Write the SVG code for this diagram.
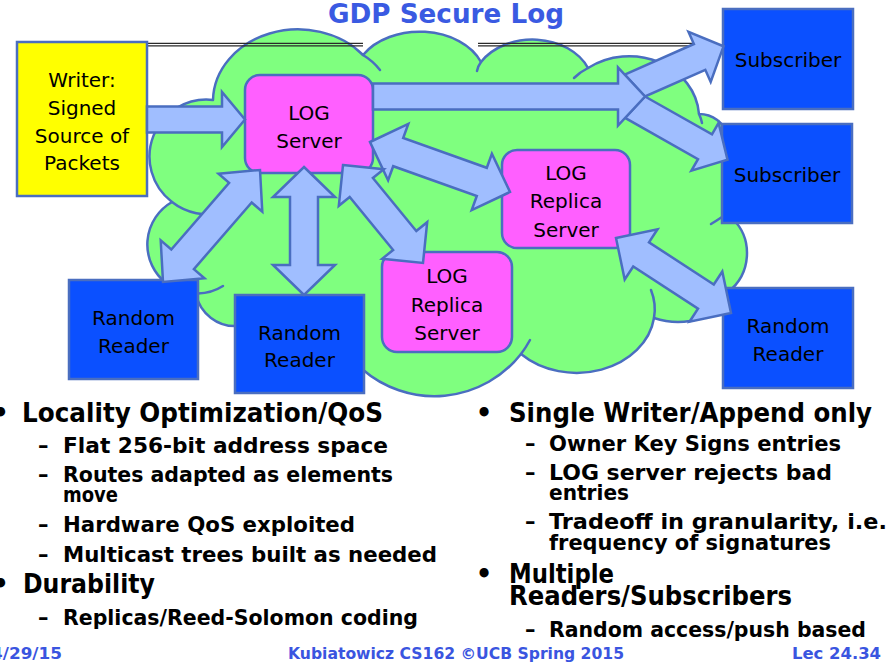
<svg xmlns="http://www.w3.org/2000/svg" width="888" height="665" viewBox="0 0 888 665">
  <style>
    .cloud { fill:#7FFF7F; stroke:#4A6EC0; stroke-width:2.5; stroke-linejoin:round; }
    .frag { fill:none; stroke:#4A6EC0; stroke-width:2.5; stroke-linecap:round; }
    .rule { stroke:#2A2A2A; stroke-width:1.2; fill:none; }
    .arrow { fill:#A0BEFF; stroke:#4A6EC0; stroke-width:2.5; stroke-linejoin:miter; }
    .writer { fill:#FFFF00; stroke:#4A6EC0; stroke-width:2.5; }
    .log { fill:#FF5FFF; stroke:#4A6EC0; stroke-width:2.5; }
    .node { fill:#0B50FF; stroke:#4A6EC0; stroke-width:2.5; }
    .lbl { font-family:"DejaVu Sans", "Liberation Sans", sans-serif; font-size:20px; fill:#000; text-anchor:middle; }
    .ttl { font-family:"DejaVu Sans", sans-serif; font-weight:bold; font-size:27px; fill:#3A5AE2; }
    .b1 { font-family:"DejaVu Sans", sans-serif; font-weight:bold; font-size:26px; fill:#000; }
    .b2 { font-family:"DejaVu Sans", sans-serif; font-weight:bold; font-size:21px; fill:#000; }
    .dot { font-family:"DejaVu Sans", sans-serif; font-weight:bold; font-size:26px; fill:#000; text-anchor:middle; }
    .ftr { font-family:"DejaVu Sans", sans-serif; font-weight:bold; font-size:16px; fill:#3A55E0; }
  </style>

  <!-- title -->
  <text class="ttl" x="328" y="23" textLength="236" lengthAdjust="spacingAndGlyphs">GDP Secure Log</text>

  <!-- network cloud -->
  <g id="cloud">
    <path class="cloud" d="M172,202 A57,57 0 0 1 213,100 A85,72 0 0 1 363,55 A66,48 0 0 1 481,62 A60,46 0 0 1 588,68 A70,62 0 0 1 699,114 A30,30 0 0 1 728,136 L760,180 L733,219 A49,49 0 0 1 728,292 L712,305 L690,321 Q672,324 654,318 A78,63 0 0 1 521,354 A110,110 0 0 1 362,369 L300,385 L238,326 A40,40 0 0 1 196,294 L185,300 L166,283 A49,49 0 0 1 172,202 Z"/>
    <!-- inner lobe arcs -->
    <path class="frag" d="M363,55 Q373,61 380,70"/>
    <path class="frag" d="M481,62 Q478,66 477,71"/>
    <path class="frag" d="M588,68 Q580,72 574,78"/>
    <path class="frag" d="M699,114 Q701,118 702,123"/>
    <path class="frag" d="M711,224 Q716,221 722,217"/>
    <path class="frag" d="M654,318 A78,63 0 0 0 651,290"/>
    <path class="frag" d="M521,354 A110,110 0 0 0 530,340"/>
    <path class="frag" d="M198,293.5 A49,49 0 0 0 223,286"/>
    <path class="frag" d="M172,202 A57,57 0 0 0 223,212"/>
  </g>

  <!-- double rule under the title -->
  <g id="rule">
    <path class="rule" d="M147,43.3 H363 M147,45.8 H363 M478,43.3 H700 M478,45.8 H700"/>
  </g>

  <g id="writer">
    <rect class="writer" x="17" y="42" width="130" height="154"/>
    <text class="lbl" x="82" y="87">Writer:</text>
    <text class="lbl" x="82" y="115">Signed</text>
    <text class="lbl" x="82" y="142.5">Source of</text>
    <text class="lbl" x="82" y="170">Packets</text>
  </g>

  <g id="log-server">
    <rect class="log" x="245" y="75" width="128" height="98" rx="15"/>
    <text class="lbl" x="309" y="120">LOG</text>
    <text class="lbl" x="309" y="148">Server</text>
  </g>

  <g id="replica-1">
    <rect class="log" x="502" y="150" width="128" height="98" rx="15"/>
    <text class="lbl" x="566" y="180">LOG</text>
    <text class="lbl" x="566" y="208">Replica</text>
    <text class="lbl" x="566" y="237">Server</text>
  </g>

  <g id="replica-2">
    <rect class="log" x="382" y="252" width="130" height="100" rx="15"/>
    <text class="lbl" x="447" y="283">LOG</text>
    <text class="lbl" x="447" y="312">Replica</text>
    <text class="lbl" x="447" y="340">Server</text>
  </g>

  <g id="subscriber-1">
    <rect class="node" x="723" y="9" width="130" height="100"/>
    <text class="lbl" x="788" y="67">Subscriber</text>
  </g>

  <g id="subscriber-2">
    <rect class="node" x="722" y="124" width="130" height="99"/>
    <text class="lbl" x="787" y="182">Subscriber</text>
  </g>

  <g id="reader-1">
    <rect class="node" x="69" y="280" width="129" height="99"/>
    <text class="lbl" x="133.5" y="325">Random</text>
    <text class="lbl" x="133.5" y="353">Reader</text>
  </g>

  <g id="reader-2">
    <rect class="node" x="235" y="295" width="129" height="98"/>
    <text class="lbl" x="299.5" y="340">Random</text>
    <text class="lbl" x="299.5" y="367">Reader</text>
  </g>

  <g id="reader-3">
    <rect class="node" x="723" y="288" width="130" height="100"/>
    <text class="lbl" x="788" y="333">Random</text>
    <text class="lbl" x="788" y="361">Reader</text>
  </g>

  <!-- block arrows -->
  <g id="connectors">
    <!-- writer to log server -->
    <path class="arrow" d="M147,106.5 H222 V92 L245,119.5 L222,147 V132.5 H147 Z"/>
    <!-- fan-out to subscribers -->
    <path class="arrow" d="M624.7,74.7 L693.9,44 L688.5,31.8 L723.5,46.3 L710.7,82 L705.3,69.8 L645,96.5 Z"/>
    <path class="arrow" d="M645,96.5 L712,134.4 L718.6,122.9 L727.5,159.6 L691.4,170.7 L698,159.2 L625.1,117.9 Z"/>
    <path class="arrow" d="M373,83.5 H618 V67.5 L645,96.5 L618,125.5 V109.5 H373 Z"/>
    <!-- log server to replica 1 -->
    <path class="arrow" d="M370,142 L408.3,123.9 L403.2,138 L486.8,167.8 L491.9,153.7 L510,192 L471.7,210.1 L476.8,196 L393.2,166.2 L388.1,180.3 Z"/>
    <!-- log server to replica 2 -->
    <path class="arrow" d="M343,165 L383.8,169.2 L372.9,178 L416.3,231 L427.2,222.2 L423,263 L382.2,258.8 L393.1,250 L349.7,197 L338.8,205.8 Z"/>
    <!-- log server to reader 1 -->
    <path class="arrow" d="M260,170 L262.3,211.7 L251.7,202.5 L193.9,269.1 L204.5,278.3 L163,282 L160.7,240.3 L171.3,249.5 L229.1,182.9 L218.5,173.7 Z"/>
    <!-- log server to reader 2 -->
    <path class="arrow" d="M304,167 L335,197 H318 V265 H335 L304,295 L273,265 H290 V197 H273 Z"/>
    <!-- replica 1 to reader 3 -->
    <path class="arrow" d="M616,238 L657.5,229.3 L649,242.3 L713.8,284.5 L722.3,271.5 L731,313 L689.5,321.7 L698,308.7 L633.2,266.5 L624.7,279.5 Z"/>
  </g>

  <!-- bullet text, left column -->
  <g id="notes-left">
    <text class="dot" x="0.5" y="422">•</text>
    <text class="b1" x="22" y="422" textLength="361" lengthAdjust="spacingAndGlyphs">Locality Optimization/QoS</text>
    <text class="b2" x="38" y="453">–</text>
    <text class="b2" x="63" y="453" textLength="325" lengthAdjust="spacingAndGlyphs">Flat 256-bit address space</text>
    <text class="b2" x="38" y="482">–</text>
    <text class="b2" x="63" y="482" textLength="330" lengthAdjust="spacingAndGlyphs">Routes adapted as elements</text>
    <text class="b2" x="63" y="502" textLength="55" lengthAdjust="spacingAndGlyphs">move</text>
    <text class="b2" x="38" y="532">–</text>
    <text class="b2" x="63" y="532" textLength="292" lengthAdjust="spacingAndGlyphs">Hardware QoS exploited</text>
    <text class="b2" x="38" y="562">–</text>
    <text class="b2" x="63" y="562" textLength="374" lengthAdjust="spacingAndGlyphs">Multicast trees built as needed</text>
    <text class="dot" x="0.5" y="593">•</text>
    <text class="b1" x="23" y="593" textLength="132" lengthAdjust="spacingAndGlyphs">Durability</text>
    <text class="b2" x="38" y="625">–</text>
    <text class="b2" x="63" y="625" textLength="355" lengthAdjust="spacingAndGlyphs">Replicas/Reed-Solomon coding</text>
  </g>

  <!-- bullet text, right column -->
  <g id="notes-right">
    <text class="dot" x="484" y="422">•</text>
    <text class="b1" x="509" y="422" textLength="363" lengthAdjust="spacingAndGlyphs">Single Writer/Append only</text>
    <text class="b2" x="525" y="451">–</text>
    <text class="b2" x="549" y="451" textLength="292" lengthAdjust="spacingAndGlyphs">Owner Key Signs entries</text>
    <text class="b2" x="525" y="480">–</text>
    <text class="b2" x="549" y="480" textLength="283" lengthAdjust="spacingAndGlyphs">LOG server rejects bad</text>
    <text class="b2" x="549" y="500" textLength="80" lengthAdjust="spacingAndGlyphs">entries</text>
    <text class="b2" x="525" y="529">–</text>
    <text class="b2" x="549" y="529" textLength="338" lengthAdjust="spacingAndGlyphs">Tradeoff in granularity, i.e.</text>
    <text class="b2" x="549" y="550" textLength="282" lengthAdjust="spacingAndGlyphs">frequency of signatures</text>
    <text class="dot" x="484" y="583">•</text>
    <text class="b1" x="509" y="583" textLength="105" lengthAdjust="spacingAndGlyphs">Multiple</text>
    <text class="b1" x="509" y="605" textLength="283" lengthAdjust="spacingAndGlyphs">Readers/Subscribers</text>
    <text class="b2" x="525" y="637">–</text>
    <text class="b2" x="549" y="637" textLength="317" lengthAdjust="spacingAndGlyphs">Random access/push based</text>
  </g>

  <!-- footer -->
  <g id="footer">
    <text class="ftr" x="-9" y="659" textLength="71" lengthAdjust="spacingAndGlyphs">4/29/15</text>
    <text class="ftr" x="288" y="659" textLength="336" lengthAdjust="spacingAndGlyphs">Kubiatowicz CS162 ©UCB Spring 2015</text>
    <text class="ftr" x="792" y="659" textLength="89" lengthAdjust="spacingAndGlyphs">Lec 24.34</text>
  </g>
</svg>
